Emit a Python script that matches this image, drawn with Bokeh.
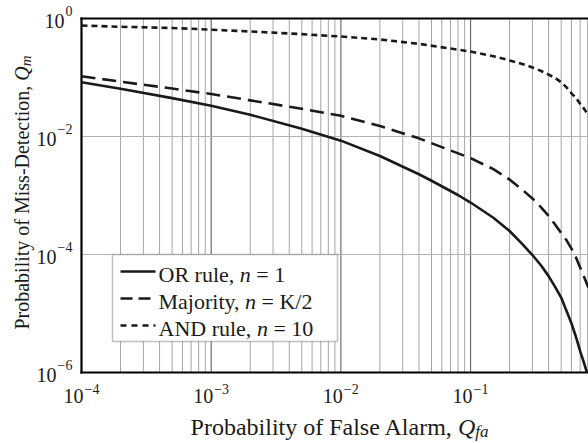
import os
import glob
import math

from bokeh.plotting import figure
from bokeh.models import Range1d, Label, BoxAnnotation, Arrow
from bokeh.embed import file_html
from bokeh.resources import INLINE

# ---------------- data ----------------
qfa_or = [1e-4, 2e-4, 5e-4, 1e-3, 2e-3, 5e-3, 1e-2, 2e-2, 4e-2, 0.05, 0.08, 0.1,
          0.15, 0.2, 0.25, 0.3, 0.35, 0.4, 0.45, 0.5, 0.55, 0.6, 0.65, 0.7, 0.75, 0.79]
qm_or = [8.3e-2, 6.46e-2, 4.47e-2, 3.31e-2, 2.34e-2, 1.35e-2, 8.5e-3, 4.68e-3,
         2.29e-3, 1.78e-3, 1.02e-3, 7.6e-4, 4.2e-4, 2.5e-4, 1.51e-4, 9.8e-5, 6.5e-5,
         4.3e-5, 2.8e-5, 1.86e-5, 1.1e-5, 6.8e-6, 4.0e-6, 2.3e-6, 1.45e-6, 1.0e-6]

qfa_maj = [1e-4, 2e-4, 5e-4, 1e-3, 2e-3, 5e-3, 1e-2, 2e-2, 4e-2, 6e-2, 0.1, 0.15,
           0.2, 0.25, 0.3, 0.35, 0.4, 0.45, 0.5, 0.55, 0.6, 0.65, 0.7, 0.75, 0.81]
qm_maj = [0.105, 0.085, 0.065, 0.0525, 0.041, 0.0295, 0.0224, 0.0151, 0.0093,
          0.0066, 0.0043, 0.0028, 0.00186, 1.26e-3, 8.9e-4, 6.3e-4, 4.5e-4, 3.2e-4,
          2.3e-4, 1.74e-4, 1.26e-4, 8.9e-5, 6.0e-5, 4.2e-5, 2.75e-5]

qfa_and = [1e-4, 2e-4, 5e-4, 1e-3, 2e-3, 5e-3, 1e-2, 2e-2, 4e-2, 0.1, 0.15, 0.2,
           0.25, 0.3, 0.35, 0.4, 0.45, 0.5, 0.55, 0.6, 0.65, 0.7, 0.75, 0.81]
qm_and = [0.76, 0.724, 0.692, 0.646, 0.603, 0.543, 0.495, 0.441, 0.372, 0.275,
          0.229, 0.195, 0.170, 0.148, 0.129, 0.112, 0.098, 0.083, 0.068, 0.054,
          0.045, 0.036, 0.0295, 0.023]

legend_rows = [("OR rule, ", "n", " = 1"),
               ("Majority, ", "n", " = K/2"),
               ("AND rule, ", "n", " = 10")]
x_tick_exps = [-4, -3, -2, -1]
y_tick_exps = [0, -2, -4, -6]
x_label = ("Probability of False Alarm, ", "Q", "fa")
y_label = ("Probability of Miss-Detection, ", "Q", "m")

# ---------------- styling / layout ----------------
W, H = 588, 443
FR_L, FR_T, FR_R, FR_B = 81, 18, 588, 372     # plot box in canvas pixels
X_MIN, X_MAX = 1e-4, 0.812
Y_MIN, Y_MAX = 1e-6, 1.0
FONT = "Liberation Serif"
TXT = "#1a1a1a"
INK = "#1a1a1a"

dpx = (math.log10(X_MAX) - math.log10(X_MIN)) / (FR_R - FR_L)
dpy = (math.log10(Y_MAX) - math.log10(Y_MIN)) / (FR_B - FR_T)
xr = Range1d(10 ** (math.log10(X_MIN) - FR_L * dpx), 10 ** (math.log10(X_MAX) + (W - FR_R) * dpx))
yr = Range1d(10 ** (math.log10(Y_MIN) - (H - FR_B) * dpy), 10 ** (math.log10(Y_MAX) + FR_T * dpy))


def _find_font(fname):
    roots = ["/usr/share/fonts", "/usr/local/share/fonts",
             os.path.expanduser("~/.fonts"), os.path.expanduser("~/.local/share/fonts")]
    for r in roots:
        hits = glob.glob(os.path.join(r, "**", fname), recursive=True)
        if hits:
            return hits[0]
    return None


_FONT_FILES = {False: _find_font("LiberationSerif-Regular.ttf"),
               True: _find_font("LiberationSerif-Italic.ttf")}


def tw(s, size, italic=False):
    path = _FONT_FILES[italic]
    if path:
        try:
            from PIL import ImageFont
            return ImageFont.truetype(path, size).getlength(s)
        except Exception:
            pass
    return 0.46 * size * len(s)


p = figure(width=W, height=H, x_axis_type="log", y_axis_type="log",
           x_range=xr, y_range=yr, x_axis_location=None, y_axis_location=None,
           output_backend="svg", toolbar_location=None,
           min_border_left=0, min_border_right=0, min_border_top=0, min_border_bottom=0)
p.outline_line_color = None
p.background_fill_color = "white"
p.border_fill_color = "white"
p.xgrid.visible = False
p.ygrid.visible = False

# grid lines (from the tick positions)
decades_x = [10.0 ** e for e in range(-4, 0)]
minors_x = [k * 10.0 ** e for e in range(-4, 0) for k in range(2, 10) if k * 10.0 ** e <= X_MAX]
grid_y = [10.0 ** e for e in (-2, -4)]

p.segment(x0=minors_x, y0=[Y_MIN] * len(minors_x), x1=minors_x, y1=[Y_MAX] * len(minors_x),
          line_color="#a6a6a6", line_width=1)
p.segment(x0=decades_x[1:], y0=[Y_MIN] * 3, x1=decades_x[1:], y1=[Y_MAX] * 3,
          line_color="#6e6e6e", line_width=1.2)
p.segment(x0=[X_MIN] * len(grid_y), y0=grid_y, x1=[X_MAX * 1.05] * len(grid_y), y1=grid_y,
          line_color="#b3b3b3", line_width=1.2)

# frame lines: left, bottom, top
p.segment(x0=[X_MIN, X_MIN, X_MIN], y0=[Y_MIN, Y_MIN, Y_MAX],
          x1=[X_MIN, X_MAX * 1.05, X_MAX * 1.05], y1=[Y_MAX, Y_MIN, Y_MAX],
          line_color="black", line_width=2.2, line_cap="square")

# curves
p.line(qfa_or, qm_or, line_color=INK, line_width=2.6, line_join="round")
p.line(qfa_maj, qm_maj, line_color=INK, line_width=2.6, line_dash="14 7", line_join="round")
p.line(qfa_and, qm_and, line_color=INK, line_width=2.6, line_dash="6 4", line_join="round")


def lab(**kw):
    base = dict(text_font=FONT, text_color=TXT, text_baseline="alphabetic")
    base.update(kw)
    p.add_layout(Label(**base))


def sup_text(e):
    return ("\u2212" + str(-e)) if e < 0 else str(e)


def sy(cy):
    return H - cy


# x tick labels
for e in x_tick_exps:
    lab(x=10.0 ** e, y=sy(395), x_units="data", y_units="screen", text="10",
        text_align="right", x_offset=2, text_font_size="20px")
    lab(x=10.0 ** e, y=sy(388), x_units="data", y_units="screen", text=sup_text(e),
        text_align="left", x_offset=3, text_font_size="14px")

# y tick labels
for e in y_tick_exps:
    s = sup_text(e)
    lab(x=72, y=10.0 ** e, x_units="screen", y_units="data", text=s,
        text_align="right", y_offset=8, text_font_size="14px")
    lab(x=72 - tw(s, 14) - 1, y=10.0 ** e, x_units="screen", y_units="data", text="10",
        text_align="right", y_offset=-2, text_font_size="20px")


def run(pieces, x, y, angle=0.0):
    pos = 0.0
    for text, size, italic, drop in pieces:
        lead = len(text) - len(text.lstrip())
        shown = text.strip()
        off = tw(text[:lead], size, italic) if lead else 0.0
        if angle == 0:
            lx, ly = x + pos + off, y - drop
        else:
            lx, ly = x + drop, y + pos + off
        lab(x=lx, y=ly, x_units="screen", y_units="screen", text=shown, angle=angle,
            text_align="left", text_font_size=f"{size}px",
            text_font_style="italic" if italic else "normal")
        pos += tw(text, size, italic)
    return pos


def run_len(pieces):
    return sum(tw(t, s, i) for t, s, i, _ in pieces)


# x axis label
xp = [(x_label[0], 24, False, 0), (x_label[1], 24, True, 0), (x_label[2], 17, True, 5)]
run(xp, 339 - run_len(xp) / 2, sy(426))

# y axis label (rotated)
yp = [(y_label[0], 20, False, 0), (y_label[1], 20, True, 0), (y_label[2], 15, True, 4)]
run(yp, 21, sy(192) - run_len(yp) / 2, angle=math.pi / 2)

# legend
p.add_layout(BoxAnnotation(left=112, right=337, top=sy(254), bottom=sy(341),
                           left_units="screen", right_units="screen",
                           top_units="screen", bottom_units="screen",
                           fill_color="white", fill_alpha=1.0,
                           line_color="#333333", line_width=1.5))
dashes = ["solid", "12 6", "6 5"]
row_y = [271, 298, 325]
for (a, b, c), dash, ry in zip(legend_rows, dashes, row_y):
    p.add_layout(Arrow(end=None, x_start=120, y_start=sy(ry), x_end=155, y_end=sy(ry),
                       start_units="screen", end_units="screen",
                       line_color=INK, line_width=2.6, line_dash=dash))
    run([(a, 22, False, 0), (b, 22, True, 0), (c, 22, False, 0)], 158, sy(ry + 3))

open("out.html", "w").write(file_html(p, INLINE))
